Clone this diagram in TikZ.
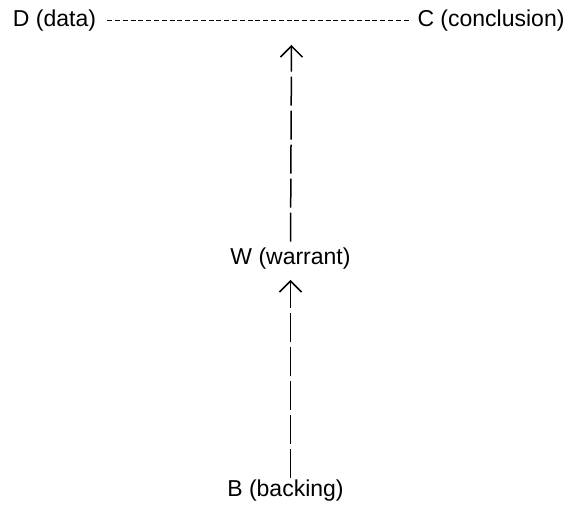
\documentclass[tikz,border=0pt]{standalone}
\usepackage{fontspec}
\setmainfont{Liberation Sans}
\usetikzlibrary{arrows.meta}
\begin{document}
\begin{tikzpicture}[x=1pt,y=1pt,
    lbl/.style={inner sep=0pt,anchor=base,font=\fontsize{23}{27}\selectfont},
    hyph/.style={line width=1.5pt,dash pattern=on 5pt off 2.8pt},
    conn/.style={line width=1.5pt,dash pattern=on 29pt off 5pt,
      -{Straight Barb[length=11pt,width=22pt]}}]
  \useasboundingbox (0,0) rectangle (571,506);
  \draw
    (54.5,479.3) node[lbl] (D){D (data)}
    (491,479.3) node[lbl] (C){C (conclusion)}
    (290.5,241.5) node[lbl] (W){W (warrant)}
    (285.5,9) node[lbl] (B){B (backing)};
  \coordinate (top) at (291.5,461);
  \draw[hyph,shorten <=11pt,shorten >=8.5pt] (D.east) -- (C.west);
  \draw[conn,shorten <=6pt] (W.north) -- (top);
  \draw[conn,shorten <=2.5pt,shorten >=10.5pt] (B.north -| W.south) -- (W.south);
\end{tikzpicture}
\end{document}
